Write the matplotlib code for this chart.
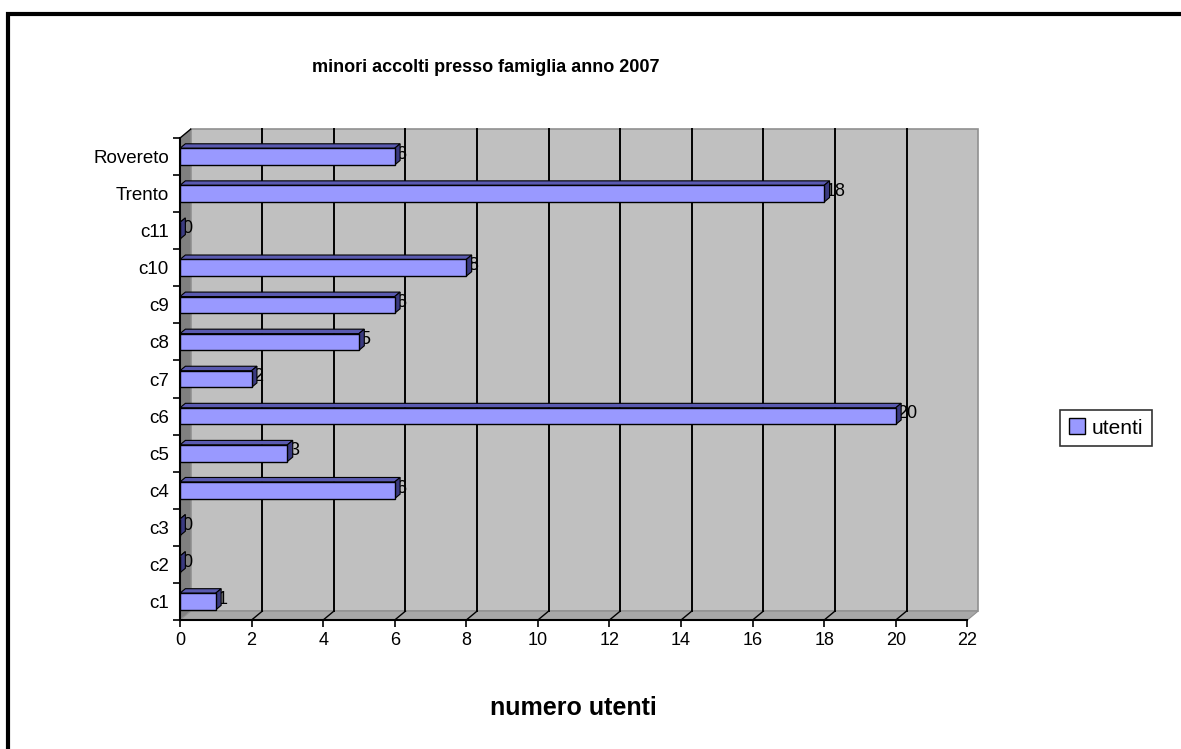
import matplotlib.pyplot as plt
from matplotlib.patches import Rectangle, Polygon
import numpy as np

categories = ['c1', 'c2', 'c3', 'c4', 'c5', 'c6', 'c7', 'c8', 'c9', 'c10', 'c11', 'Trento', 'Rovereto']
utenti = [1, 0, 0, 6, 3, 20, 2, 5, 6, 8, 0, 18, 6]
xticks = list(range(0, 23, 2))

plt.rcParams['font.family'] = ['Liberation Sans', 'DejaVu Sans']

fig = plt.figure(figsize=(11.81, 7.49), dpi=100)
fig.patch.set_facecolor('white')

# outer chart border
fig.patches.append(Rectangle((8 / 1181, -0.1), 1.2, 1 - 14 / 749 + 0.1,
                             transform=fig.transFigure, fill=False,
                             edgecolor='black', linewidth=3, zorder=0))

ax = fig.add_axes([0.1524, 0.1722, 0.6667, 0.6435])
ax.set_facecolor('none')
ax.set_xlim(0, 22)
ax.set_ylim(-0.5, len(categories) - 0.5)

# fake 3D back wall
dx, dy = 0.3, 0.24
ax.add_patch(Polygon([(dx, -0.5 + dy), (22 + dx, -0.5 + dy), (22 + dx, 12.5 + dy), (dx, 12.5 + dy)],
                     closed=True, facecolor='#c0c0c0', edgecolor='#909090', lw=1.2, zorder=0,
                     clip_on=False))
ax.add_patch(Polygon([(0, -0.5), (dx, -0.5 + dy), (dx, 12.5 + dy), (0, 12.5)],
                     closed=True, facecolor='#808080', edgecolor='none', zorder=0.5, clip_on=False))
ax.add_patch(Polygon([(0, -0.5), (22, -0.5), (22 + dx, -0.5 + dy), (dx, -0.5 + dy)],
                     closed=True, facecolor='#a8a8a8', edgecolor='#909090', lw=0.8, zorder=0.5,
                     clip_on=False))
for t in xticks[1:-1]:
    ax.plot([t + dx, t + dx], [-0.5 + dy, 12.5 + dy], color='black', lw=1.4, zorder=1, clip_on=False)
    ax.plot([t, t + dx], [-0.5, -0.5 + dy], color='black', lw=1, zorder=1, clip_on=False)
ax.plot([0, dx], [12.5, 12.5 + dy], color='black', lw=1, zorder=1, clip_on=False)

y = np.arange(len(categories))
h = 0.45
ox, oy = 0.15, 0.12
for yi, v in zip(y, utenti):
    # top face
    ax.add_patch(Polygon([(0, yi + h / 2), (ox, yi + h / 2 + oy),
                          (v + ox, yi + h / 2 + oy), (v, yi + h / 2)],
                         closed=True, facecolor='#5a5ab0', edgecolor='black', lw=0.8, zorder=3))
    # side face
    ax.add_patch(Polygon([(v, yi - h / 2), (v + ox, yi - h / 2 + oy),
                          (v + ox, yi + h / 2 + oy), (v, yi + h / 2)],
                         closed=True, facecolor='#3a3a80', edgecolor='black', lw=0.8, zorder=3))
ax.barh(y, utenti, height=h, color='#9999ff', edgecolor='black', linewidth=1.0, zorder=4,
        label='utenti')
for yi, v in zip(y, utenti):
    ax.text(v + 0.05, yi + 0.06, str(v), va='center', ha='left', fontsize=13, zorder=2)

ax.set_yticks(y)
ax.set_yticklabels(categories, fontsize=13.5)
ax.set_yticks(np.arange(-0.5, 13, 1), minor=True)
ax.tick_params(axis='y', which='major', length=0, pad=8)
ax.tick_params(axis='y', which='minor', length=5, width=1.2)
ax.set_xticks(xticks)
ax.set_xticklabels([str(t) for t in xticks], fontsize=13)
ax.tick_params(axis='x', length=5, width=1.2)
for s in ['top', 'right']:
    ax.spines[s].set_visible(False)
for s in ['left', 'bottom']:
    ax.spines[s].set_linewidth(1.5)

fig.text(486 / 1181, 1 - 68 / 749, 'minori accolti presso famiglia anno 2007',
         ha='center', va='center', fontsize=13, fontweight='bold')
ax.set_xlabel('numero utenti', fontsize=18, fontweight='bold', labelpad=34)

leg = fig.legend(handles=[Rectangle((0, 0), 1, 1, facecolor='#9999ff', edgecolor='black')],
                 labels=['utenti'], loc='center', bbox_to_anchor=(1106 / 1181, 1 - 428 / 749),
                 fontsize=15, frameon=True, fancybox=False, edgecolor='black',
                 handlelength=0.8, handleheight=0.8, handletextpad=0.3, borderpad=0.4)
leg.get_frame().set_linewidth(1.2)

fig.savefig('out.png', dpi=100)
